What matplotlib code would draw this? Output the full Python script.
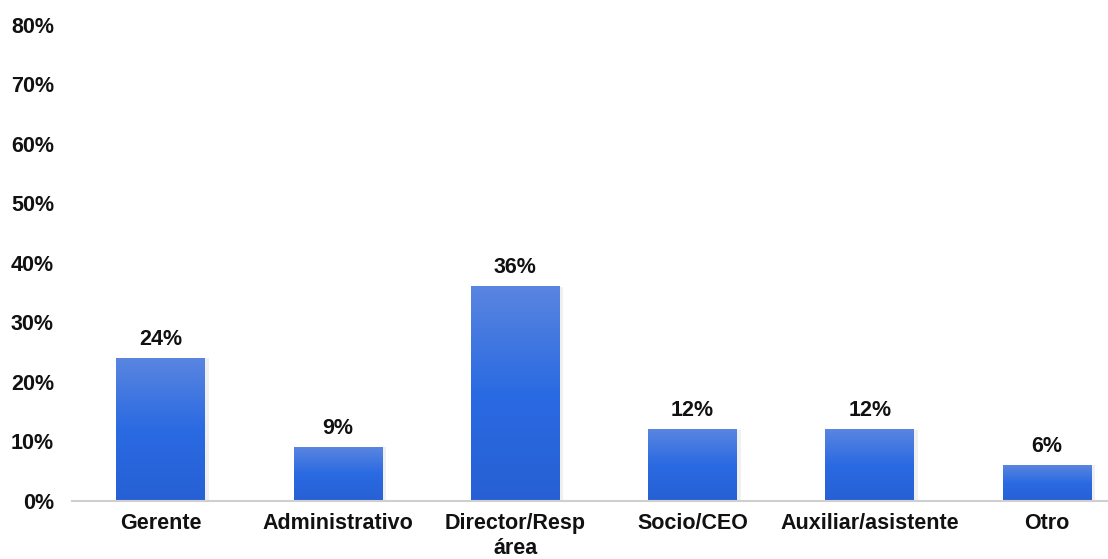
import matplotlib.pyplot as plt
import numpy as np
from matplotlib.colors import LinearSegmentedColormap

plt.rcParams['font.family'] = ['Liberation Sans', 'DejaVu Sans']
plt.rcParams['font.weight'] = 'bold'

# Cargos de los encuestados
categories = ['Gerente', 'Administrativo', 'Director/Resp\nárea', 'Socio/CEO',
              'Auxiliar/asistente', 'Otro']
values = [24, 9, 36, 12, 12, 6]
yticks = [0, 10, 20, 30, 40, 50, 60, 70, 80]

fig = plt.figure(figsize=(11.08, 5.59), dpi=100)
ax = fig.add_axes([0.065, 0.1038, 0.96, 0.8515])

x = np.arange(len(categories))
width = 0.5

# gradiente vertical para cada barra
cmap = LinearSegmentedColormap.from_list('azul', ['#2760d4', '#2a6ae2', '#5a85e0'])
grad = np.linspace(0, 1, 256).reshape(-1, 1)

bars = ax.bar(x, values, width, color='none', edgecolor='none')
for b in bars:
    x0, y0 = b.get_x(), b.get_y()
    w, h = b.get_width(), b.get_height()
    # sombra suave
    ax.bar(x0 + w / 2 + 0.012, h, w + 0.02, color='#000000', alpha=0.06, zorder=1)
    ax.imshow(grad, cmap=cmap, origin='lower', aspect='auto',
              extent=[x0, x0 + w, y0, y0 + h], zorder=2)

for xi, v in zip(x, values):
    ax.text(xi, v + 1.4, f'{v}%', ha='center', va='bottom', fontsize=15.5,
            fontweight='bold', color='#111111')

ax.set_xlim(-0.5, len(categories) - 0.5)
ax.set_ylim(0, 80)
ax.set_yticks(yticks)
ax.set_yticklabels([f'{t}%' for t in yticks])
ax.set_xticks(x)
ax.set_xticklabels(categories, linespacing=1.2)
ax.tick_params(axis='both', length=0, labelsize=15.5, colors='#111111')
ax.tick_params(axis='y', pad=13)
ax.tick_params(axis='x', pad=9)

for s in ['top', 'right', 'left']:
    ax.spines[s].set_visible(False)
ax.spines['bottom'].set_color('#cfcfcf')
ax.spines['bottom'].set_linewidth(1.5)
ax.spines['bottom'].set_zorder(3)

fig.savefig('out.png', dpi=100)
